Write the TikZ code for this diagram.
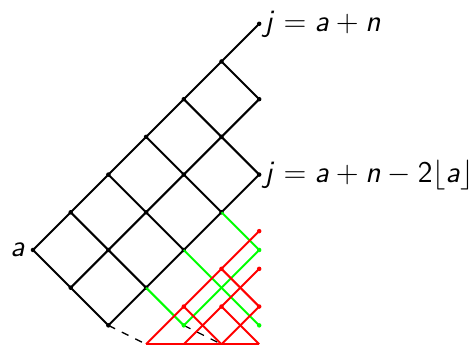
\documentclass[tikz,border=0pt]{standalone}
\usepackage{amsmath}
\usetikzlibrary{positioning}
\DeclareSymbolFont{sfslant}{OT1}{cmss}{m}{sl}
\DeclareSymbolFont{sfupright}{OT1}{cmss}{m}{n}
\DeclareMathSymbol{a}{\mathalpha}{sfslant}{`a}
\DeclareMathSymbol{j}{\mathalpha}{sfslant}{`j}
\DeclareMathSymbol{n}{\mathalpha}{sfslant}{`n}
\DeclareMathSymbol{2}{\mathalpha}{sfupright}{`2}

\begin{document}
\begin{tikzpicture}[
  x=15.08pt, y=15.08pt,
  edge/.style={line width=0.8pt},
  pt/.style={circle, fill, inner sep=0pt, minimum size=1.8pt},
  lab/.style={inner sep=1pt, font=\large},
  proj/.style={line width=0.5pt, dash pattern=on 3pt off 3pt}
]
\useasboundingbox (-0.875,-2.52) rectangle (11.698,6.631);
\foreach \i in {0,...,6}
  \foreach \j in {0,...,2}
    \coordinate (b\i\j) at ({\i+\j},{\i-\j});
\coordinate (g1) at (4,-2);
\coordinate (g2) at (6,-2);
\coordinate (g3) at (6,0);
\coordinate (r1) at (3,-2.5);
\coordinate (r2) at (4,-2.5);
\coordinate (r3) at (5,-2.5);
\coordinate (r4) at (6,-2.5);
\coordinate (r5) at (4,-1.5);
\coordinate (r6) at (5,-1.5);
\coordinate (r7) at (6,-1.5);
\coordinate (r8) at (5,-0.5);
\coordinate (r9) at (6,-0.5);
\coordinate (r10) at (6,0.5);

\draw[edge] (b00) -- (b60);
\draw[edge] (b01) -- (b51);
\draw[edge] (b02) -- (b42);
\foreach \i in {0,...,4}
  \draw[edge] (b\i0) -- (b\i2);
\draw[edge] (b50) -- (b51);
\foreach \i/\j in {0/0,1/0,2/0,3/0,4/0,5/0,6/0,0/1,1/1,2/1,3/1,4/1,5/1,0/2,1/2,2/2,3/2,4/2}
  \node[pt] at (b\i\j) {};

\draw[proj] (b02) -- (r1);
\draw[proj] (g1) -- (r3);

\draw[edge, green] (b12) -- (g1);
\draw[edge, green] (b22) -- (g2);
\draw[edge, green] (b32) -- (g3);
\draw[edge, green] (g1) -- (g3);
\foreach \p in {g1,g2,g3}
  \node[pt, green] at (\p) {};

\draw[edge, red] (r1) -- (r10);
\draw[edge, red] (r2) -- (r9);
\draw[edge, red] (r3) -- (r7);
\draw[edge, red] (r5) -- (r3);
\draw[edge, red] (r8) -- (r7);
\draw[edge, red] (r6) -- (r4);
\draw[edge, red] (r1) -- (r4);
\foreach \p in {r5,r6,r7,r8,r9,r10}
  \node[pt, red] at (\p) {};

\node[lab, left=2pt of b00] (la) {$a$};
\node[lab, right=1pt of b60] (ltop) {$j=a+n$};
\node[lab, right=1pt of b42] (lmid) {$j=a+n-2\lfloor a\rfloor$};
\end{tikzpicture}
\end{document}
